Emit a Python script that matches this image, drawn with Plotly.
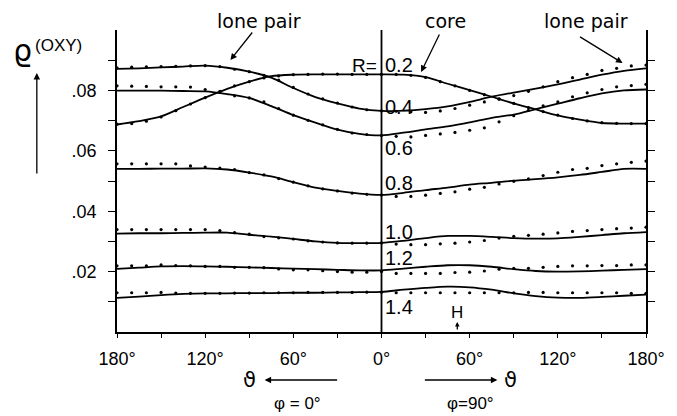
import plotly.graph_objects as go

# signed angular position: negative = phi=0 side (theta = -pos), positive = phi=90 side
pos_line = [-180, -165, -150, -135, -120, -105, -90, -75, -60, -45, -30, -15, 0,
            15, 30, 45, 60, 75, 90, 105, 120, 135, 150, 165, 180]
pos_dot = [-180, -170, -160, -150, -140, -130, -120, -110, -100, -90, -80, -70, -60,
           -50, -40, -30, -20, -10, 0, 10, 20, 30, 40, 50, 60, 70, 80, 90, 100,
           110, 120, 130, 140, 150, 160, 170, 180]

r_labels = ["0.2", "0.4", "0.6", "0.8", "1.0", "1.2", "1.4"]

line_02 = [0.0687, 0.0698, 0.0714, 0.0745, 0.0776, 0.0805, 0.0829, 0.0847, 0.0852, 0.0853, 0.0853, 0.0853, 0.0853,
           0.0852, 0.0844, 0.0822, 0.0801, 0.0779, 0.0757, 0.0737, 0.0717, 0.0703, 0.0692, 0.0690, 0.0690]
line_04 = [0.0871, 0.0873, 0.0876, 0.0879, 0.0882, 0.0875, 0.0862, 0.0842, 0.0808, 0.0778, 0.0757, 0.0740, 0.0732,
           0.0733, 0.0738, 0.0747, 0.0762, 0.0779, 0.0793, 0.0806, 0.0820, 0.0836, 0.0852, 0.0865, 0.0873]
line_06 = [0.0799, 0.0799, 0.0799, 0.0798, 0.0797, 0.0788, 0.0775, 0.0748, 0.0718, 0.0693, 0.0670, 0.0656, 0.0651,
           0.0660, 0.0671, 0.0681, 0.0694, 0.0709, 0.0720, 0.0738, 0.0756, 0.0774, 0.0790, 0.0800, 0.0803]
line_08 = [0.0540, 0.0540, 0.0541, 0.0541, 0.0542, 0.0538, 0.0528, 0.0515, 0.0496, 0.0478, 0.0467, 0.0458, 0.0454,
           0.0461, 0.0470, 0.0478, 0.0488, 0.0494, 0.0501, 0.0506, 0.0512, 0.0520, 0.0530, 0.0540, 0.0540]
line_10 = [0.0326, 0.0327, 0.0327, 0.0328, 0.0329, 0.0329, 0.0322, 0.0316, 0.0308, 0.0300, 0.0295, 0.0294, 0.0295,
           0.0302, 0.0311, 0.0318, 0.0318, 0.0315, 0.0311, 0.0309, 0.0310, 0.0315, 0.0321, 0.0327, 0.0331]
line_12 = [0.0209, 0.0213, 0.0217, 0.0218, 0.0217, 0.0216, 0.0214, 0.0212, 0.0210, 0.0208, 0.0206, 0.0204, 0.0204,
           0.0210, 0.0216, 0.0221, 0.0221, 0.0216, 0.0208, 0.0202, 0.0200, 0.0201, 0.0203, 0.0206, 0.0208]
line_14 = [0.0113, 0.0117, 0.0122, 0.0126, 0.0128, 0.0128, 0.0129, 0.0129, 0.0130, 0.0130, 0.0131, 0.0132, 0.0133,
           0.0140, 0.0146, 0.0150, 0.0148, 0.0140, 0.0128, 0.0119, 0.0114, 0.0113, 0.0116, 0.0120, 0.0124]

dots_02 = [0.0688, 0.0690, 0.0698, 0.0712, 0.0733, 0.0755, 0.0776, 0.0797, 0.0815, 0.0829, 0.0841, 0.0848, 0.0852,
           0.0853, 0.0854, 0.0854, 0.0853, 0.0853, 0.0853, 0.0853, 0.0850, 0.0843, 0.0829, 0.0815, 0.0800, 0.0786,
           0.0772, 0.0757, 0.0743, 0.0730, 0.0718, 0.0707, 0.0699, 0.0693, 0.0691, 0.0690, 0.0690]
dots_04 = [0.0875, 0.0877, 0.0878, 0.0879, 0.0880, 0.0881, 0.0882, 0.0879, 0.0870, 0.0862, 0.0850, 0.0834, 0.0810,
           0.0788, 0.0772, 0.0758, 0.0745, 0.0736, 0.0732, 0.0731, 0.0729, 0.0727, 0.0732, 0.0740, 0.0751, 0.0762,
           0.0771, 0.0783, 0.0797, 0.0812, 0.0829, 0.0842, 0.0853, 0.0866, 0.0873, 0.0881, 0.0884]
dots_06 = [0.0815, 0.0814, 0.0813, 0.0812, 0.0812, 0.0811, 0.0803, 0.0793, 0.0782, 0.0775, 0.0762, 0.0740, 0.0718,
           0.0701, 0.0686, 0.0671, 0.0659, 0.0654, 0.0651, 0.0648, 0.0646, 0.0651, 0.0656, 0.0661, 0.0668, 0.0676,
           0.0696, 0.0716, 0.0734, 0.0749, 0.0762, 0.0779, 0.0792, 0.0803, 0.0812, 0.0816, 0.0820]
dots_08 = [0.0557, 0.0557, 0.0557, 0.0557, 0.0557, 0.0550, 0.0546, 0.0543, 0.0538, 0.0528, 0.0520, 0.0508, 0.0496,
           0.0484, 0.0474, 0.0467, 0.0460, 0.0456, 0.0454, 0.0449, 0.0449, 0.0453, 0.0459, 0.0464, 0.0473, 0.0479,
           0.0490, 0.0499, 0.0507, 0.0518, 0.0529, 0.0538, 0.0542, 0.0551, 0.0557, 0.0562, 0.0566]
dots_10 = [0.0339, 0.0339, 0.0339, 0.0339, 0.0339, 0.0339, 0.0339, 0.0336, 0.0329, 0.0324, 0.0316, 0.0312, 0.0308,
           0.0302, 0.0298, 0.0295, 0.0294, 0.0294, 0.0295, 0.0291, 0.0289, 0.0289, 0.0292, 0.0294, 0.0298, 0.0303,
           0.0311, 0.0317, 0.0320, 0.0324, 0.0328, 0.0333, 0.0336, 0.0339, 0.0342, 0.0344, 0.0347]
dots_12 = [0.0219, 0.0219, 0.0219, 0.0222, 0.0220, 0.0219, 0.0217, 0.0217, 0.0214, 0.0214, 0.0213, 0.0209, 0.0206,
           0.0206, 0.0203, 0.0200, 0.0198, 0.0198, 0.0200, 0.0194, 0.0194, 0.0194, 0.0194, 0.0197, 0.0198, 0.0202,
           0.0208, 0.0211, 0.0211, 0.0214, 0.0217, 0.0219, 0.0219, 0.0220, 0.0220, 0.0222, 0.0222]
dots_14 = [0.0130, 0.0130, 0.0130, 0.0131, 0.0129, 0.0128, 0.0128, 0.0128, 0.0129, 0.0129, 0.0130, 0.0130, 0.0130,
           0.0131, 0.0131, 0.0131, 0.0131, 0.0132, 0.0132, 0.0130, 0.0130, 0.0130, 0.0130, 0.0130, 0.0130, 0.0130,
           0.0130, 0.0130, 0.0131, 0.0131, 0.0130, 0.0130, 0.0130, 0.0130, 0.0130, 0.0128, 0.0128]

x_tickvals = [-180, -150, -120, -90, -60, -30, 0, 30, 60, 90, 120, 150, 180]
x_ticktext = ["180°", "", "120°", "", "60°", "", "0°", "", "60°", "", "120°", "", "180°"]
y_tickvals = [0.01, 0.02, 0.03, 0.04, 0.05, 0.06, 0.07, 0.08, 0.09]
y_ticktext = ["", ".02", "", ".04", "", ".06", "", ".08", ""]

FONT = "Liberation Sans"
FONT2 = "DejaVu Sans"
W, H = 677, 416
L, R, T, B = 117, 19, 30, 84
PW, PH = W - L - R, H - T - B


def px(xp):
    return (xp - L) / PW


def py(yp):
    return (T + PH - yp) / PH


fig = go.Figure()
lines = [line_02, line_04, line_06, line_08, line_10, line_12, line_14]
dots = [dots_02, dots_04, dots_06, dots_08, dots_10, dots_12, dots_14]
for lab, ys in zip(r_labels, lines):
    fig.add_trace(go.Scatter(x=pos_line, y=ys, mode="lines", name="R=" + lab,
                             line=dict(color="black", width=1.8, shape="spline", smoothing=0.8),
                             showlegend=False, hoverinfo="skip"))
for lab, ys in zip(r_labels, dots):
    fig.add_trace(go.Scatter(x=pos_dot, y=ys, mode="markers", name="R=" + lab + " dots",
                             marker=dict(color="black", size=3.2),
                             showlegend=False, hoverinfo="skip"))

# central vertical line
fig.add_shape(type="line", x0=0, x1=0, y0=0, y1=0.1, xref="x", yref="y",
              line=dict(color="black", width=1.8))

ann = []


def text(xp, yp, s, size=17, xanchor="center", family=FONT):
    ann.append(dict(x=px(xp), y=py(yp), xref="paper", yref="paper", text=s, showarrow=False,
                    xanchor=xanchor, yanchor="middle", font=dict(family=family, size=size, color="black")))


def arrow(x0, y0, x1, y1, size=1.0):
    ann.append(dict(x=px(x1), y=py(y1), xref="paper", yref="paper", ax=x0 - x1, ay=y0 - y1,
                    text="", showarrow=True, arrowhead=2, arrowsize=size, arrowwidth=1.3,
                    arrowcolor="black"))


text(262, 21, "lone pair", 19, family=FONT2)
arrow(256, 31, 233, 60)
text(453, 21, "core", 19, family=FONT2)
arrow(447, 33, 428, 72)
text(597, 21, "lone pair", 19, family=FONT2)
arrow(590, 36, 634, 63)

text(385, 65, "R=", 19, "right")
text(389, 65, r_labels[0], 20, "left")
for lab, yp in zip(r_labels[1:], [107, 148, 183, 232, 258, 307]):
    text(389, yp, lab, 20, "left")

text(465, 312, "H", 17)
arrow(465, 331, 465, 322, 0.7)

# y-axis label
text(20, 50, "ϱ", 30, family=FONT2)
text(57, 45, "(OXY)", 17)
arrow(35, 175, 35, 73)

# theta arrows
text(253, 380, "ϑ", 21, family=FONT2)
arrow(342, 380, 268, 380)
text(519, 380, "ϑ", 21, family=FONT2)
arrow(432, 380, 506, 380)
text(302, 404, "φ = 0°", 17)
text(479, 404, "φ=90°", 17)

fig.update_layout(
    width=W, height=H,
    margin=dict(l=L, r=R, t=T, b=B, pad=0),
    paper_bgcolor="white", plot_bgcolor="white",
    annotations=ann,
    xaxis=dict(range=[-180, 180], tickmode="array", tickvals=x_tickvals, ticktext=x_ticktext,
               showline=True, linecolor="black", linewidth=1.8, mirror=False,
               ticks="outside", ticklen=4, tickwidth=1.3, tickcolor="black",
               showgrid=False, zeroline=False, ticklabelstandoff=5,
               tickfont=dict(family=FONT, size=18, color="black")),
    yaxis=dict(range=[0, 0.1], tickmode="array", tickvals=y_tickvals, ticktext=y_ticktext,
               showline=True, linecolor="black", linewidth=1.8, mirror="ticks",
               ticks="outside", ticklen=7, tickwidth=1.3, tickcolor="black",
               showgrid=False, zeroline=False, ticklabelstandoff=8,
               tickfont=dict(family=FONT, size=18, color="black")),
)

fig.write_html("out.html", config={"displayModeBar": False},
               post_script="document.body.style.margin='0px';")
